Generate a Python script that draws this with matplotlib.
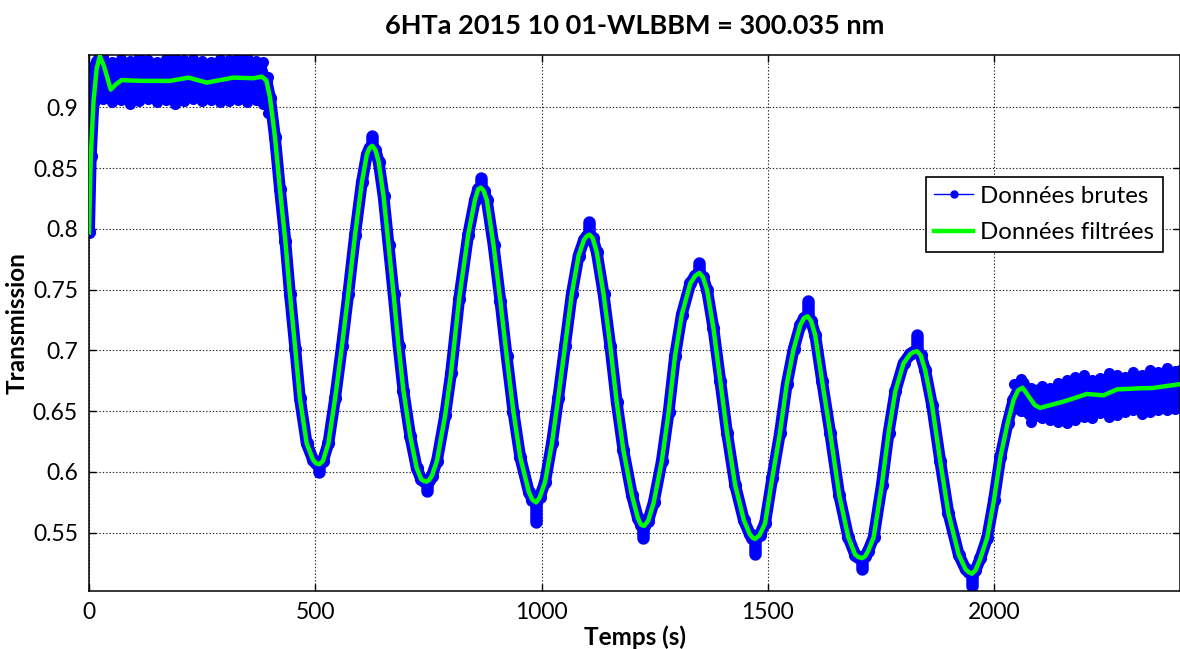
import matplotlib
matplotlib.use("Agg")
import matplotlib.pyplot as plt
from matplotlib.lines import Line2D
from matplotlib.ticker import FuncFormatter

# --- filtered curve ---
t_filt = [0, 4, 10, 17, 24, 33, 48, 60, 72, 120, 179, 220, 260, 319, 363, 382, 392,
          400, 411, 422, 434, 444, 456, 466, 481, 495, 502, 509, 517, 529, 544, 559, 573,
          588, 603, 614, 620, 626, 633, 640, 651, 662, 673, 684, 695, 710, 724, 734, 740,
          746, 752, 758, 769, 787, 800, 818, 838, 853, 860, 866, 872, 879, 894, 909, 923,
          938, 953, 972, 980, 988, 996, 1008, 1023, 1037, 1052, 1067, 1082, 1094, 1100,
          1106, 1113, 1122, 1137, 1152, 1166, 1181, 1200, 1213, 1220, 1227, 1236, 1248,
          1266, 1281, 1295, 1310, 1329, 1340, 1349, 1357, 1366, 1380, 1395, 1410, 1428,
          1447, 1460, 1466, 1472, 1482, 1494, 1510, 1527, 1542, 1557, 1572, 1580, 1588,
          1596, 1605, 1620, 1638, 1658, 1678, 1693, 1700, 1708, 1715, 1722, 1734, 1752,
          1767, 1782, 1800, 1815, 1822, 1830, 1838, 1848, 1863, 1881, 1899, 1922, 1937,
          1944, 1951, 1959, 1970, 1985, 2000, 2014, 2030, 2043, 2053, 2063, 2075, 2090,
          2102, 2125, 2154, 2180, 2205, 2242, 2272, 2323, 2350, 2382, 2411]
y_filt = [0.797, 0.860, 0.905, 0.932, 0.942, 0.934, 0.9146, 0.919, 0.9223, 0.9217,
          0.9217, 0.9244, 0.9203, 0.9244, 0.9239, 0.9252, 0.922, 0.908, 0.8754, 0.8325,
          0.7896, 0.7466, 0.7008, 0.6608, 0.6235, 0.610, 0.607, 0.6063, 0.609, 0.6235,
          0.6608, 0.7036, 0.7466, 0.7952, 0.8382, 0.8611, 0.8665, 0.8683, 0.8648, 0.8553,
          0.8267, 0.7866, 0.7466, 0.7036, 0.6664, 0.6292, 0.6035, 0.594, 0.5925, 0.592,
          0.5935, 0.597, 0.6092, 0.6464, 0.681, 0.7423, 0.7952, 0.8238, 0.8325, 0.8339,
          0.8315, 0.8238, 0.7866, 0.7409, 0.695, 0.6493, 0.6121, 0.5835, 0.577, 0.5749,
          0.579, 0.592, 0.6235, 0.6608, 0.7036, 0.7466, 0.778, 0.791, 0.794, 0.7952,
          0.7925, 0.7809, 0.7466, 0.7036, 0.6579, 0.6178, 0.5806, 0.562, 0.5565, 0.5556,
          0.560, 0.5749, 0.6092, 0.6493, 0.6951, 0.7294, 0.7552, 0.7615, 0.7637, 0.760,
          0.7494, 0.718, 0.675, 0.6321, 0.5891, 0.5605, 0.549, 0.546, 0.5448, 0.548,
          0.5576, 0.595, 0.6321, 0.6722, 0.7008, 0.7208, 0.7265, 0.728, 0.724, 0.7123,
          0.675, 0.6321, 0.5806, 0.5462, 0.532, 0.530, 0.529, 0.5305, 0.535, 0.5462,
          0.5891, 0.6321, 0.6664, 0.6893, 0.697, 0.6985, 0.6993, 0.696, 0.6836, 0.655,
          0.6092, 0.5663, 0.5319, 0.520, 0.5175, 0.5162, 0.519, 0.529, 0.546, 0.577,
          0.612, 0.640, 0.659, 0.667, 0.6693, 0.663, 0.655, 0.6527, 0.655, 0.6579, 0.661,
          0.6641, 0.663, 0.6679, 0.6688, 0.669, 0.6707, 0.6722]

# --- raw data: noisy plateaus (envelope of the blue points) ---
t_band1 = [0, 15, 30, 50, 70, 90, 110, 130, 150, 170, 190, 210, 230, 250, 270, 290,
           310, 330, 350, 370, 385, 395]
hi_band1 = [0.933, 0.938, 0.941, 0.937, 0.940, 0.938, 0.941, 0.939, 0.937, 0.940, 0.941,
            0.939, 0.940, 0.938, 0.937, 0.940, 0.939, 0.941, 0.941, 0.938, 0.937, 0.925]
lo_band1 = [0.912, 0.910, 0.907, 0.904, 0.906, 0.903, 0.905, 0.907, 0.904, 0.906, 0.903,
            0.905, 0.907, 0.905, 0.906, 0.904, 0.905, 0.906, 0.904, 0.906, 0.903, 0.895]

t_band2 = [2045, 2060, 2082, 2105, 2124, 2142, 2161, 2180, 2198, 2216, 2235, 2254, 2272,
           2290, 2308, 2326, 2345, 2363, 2382, 2400, 2411]
hi_band2 = [0.672, 0.6765, 0.669, 0.671, 0.669, 0.673, 0.6756, 0.678, 0.6797, 0.676,
            0.6772, 0.681, 0.6797, 0.678, 0.6824, 0.680, 0.6838, 0.682, 0.6852, 0.683,
            0.6838]
lo_band2 = [0.652, 0.650, 0.6413, 0.644, 0.6427, 0.641, 0.640, 0.643, 0.6454, 0.644,
            0.6482, 0.645, 0.6468, 0.649, 0.6509, 0.648, 0.6495, 0.651, 0.6509, 0.652,
            0.655]

# --- raw data: scatter beyond the filtered extrema ---
tip_t = [509, 626, 746, 866, 988, 1106, 1225, 1349, 1472, 1588, 1708, 1829, 1951, 2064]
tip_base = [0.6063, 0.8683, 0.592, 0.8339, 0.5749, 0.7952, 0.5556, 0.7637, 0.5448,
            0.728, 0.529, 0.6993, 0.5162, 0.6693]
tip_end = [0.6000, 0.8760, 0.5845, 0.8415, 0.5585, 0.8060, 0.5455, 0.7715, 0.5325,
           0.7410, 0.5200, 0.7125, 0.5065, 0.6735]

xticks = [0, 500, 1000, 1500, 2000]
yticks = [0.55, 0.6, 0.65, 0.7, 0.75, 0.8, 0.85, 0.9]

blue = '#0000FF'
green = '#00FF00'
plt.rcParams['font.family'] = ['Lato', 'DejaVu Sans']

fig = plt.figure(figsize=(11.8, 6.49), dpi=100)
ax = fig.add_axes([89 / 1180, 1 - 591 / 649, (1180 - 89) / 1180, (591 - 55) / 649])

# raw data
ax.fill_between(t_band1, lo_band1, hi_band1, color=blue, lw=0, zorder=2)
ax.fill_between(t_band2, lo_band2, hi_band2, color=blue, lw=0, zorder=2)
for band_t, band_v in [(t_band1, hi_band1), (t_band1, lo_band1),
                       (t_band2, hi_band2), (t_band2, lo_band2)]:
    ax.plot(band_t, band_v, '-o', color=blue, lw=3, ms=8, mew=0, zorder=2)
ax.plot(t_filt, y_filt, '-o', color=blue, lw=8.5, ms=9.5, mew=0,
        solid_joinstyle='round', solid_capstyle='round', zorder=2)
for tt, b, e in zip(tip_t, tip_base, tip_end):
    ax.plot([tt, tt], [b, e], color=blue, lw=9, solid_capstyle='round', zorder=2)

# filtered data
ax.plot(t_filt, y_filt, color=green, lw=3.2, zorder=3, solid_joinstyle='round')

ax.set_xlim(0, 2411)
ax.set_ylim(0.502, 0.943)
ax.set_xticks(xticks)
ax.set_yticks(yticks)
ax.yaxis.set_major_formatter(FuncFormatter(lambda v, p: f'{v:g}'))
ax.tick_params(direction='in', top=True, right=True, length=5, width=1,
               labelsize=16.5, pad=8, colors='black')
ax.grid(True, linestyle=(0, (1.2, 1.8)), color='#222222', lw=0.8, zorder=1)
for s in ax.spines.values():
    s.set_linewidth(1.1)
    s.set_color('black')

ax.set_title('6HTa 2015 10 01-WLBBM = 300.035 nm', fontsize=19.5, fontweight='bold', pad=15)
ax.set_xlabel('Temps (s)', fontsize=17.5, fontweight='bold', labelpad=2)
ax.set_ylabel('Transmission', fontsize=17.5, fontweight='bold', labelpad=3)

raw_handle = Line2D([], [], color=blue, lw=1, marker='o', ms=5)
filt_handle = Line2D([], [], color=green, lw=3.2)
leg = ax.legend([raw_handle, filt_handle], ['Données brutes', 'Données filtrées'],
                loc='upper right', bbox_to_anchor=(0.984, 0.772), borderaxespad=0,
                fontsize=17.3, fancybox=False, framealpha=1, edgecolor='black',
                handlelength=1.6, handletextpad=0.3, borderpad=0.35, labelspacing=0.65)
leg.get_frame().set_linewidth(1.2)

fig.savefig('out.png', dpi=100)
